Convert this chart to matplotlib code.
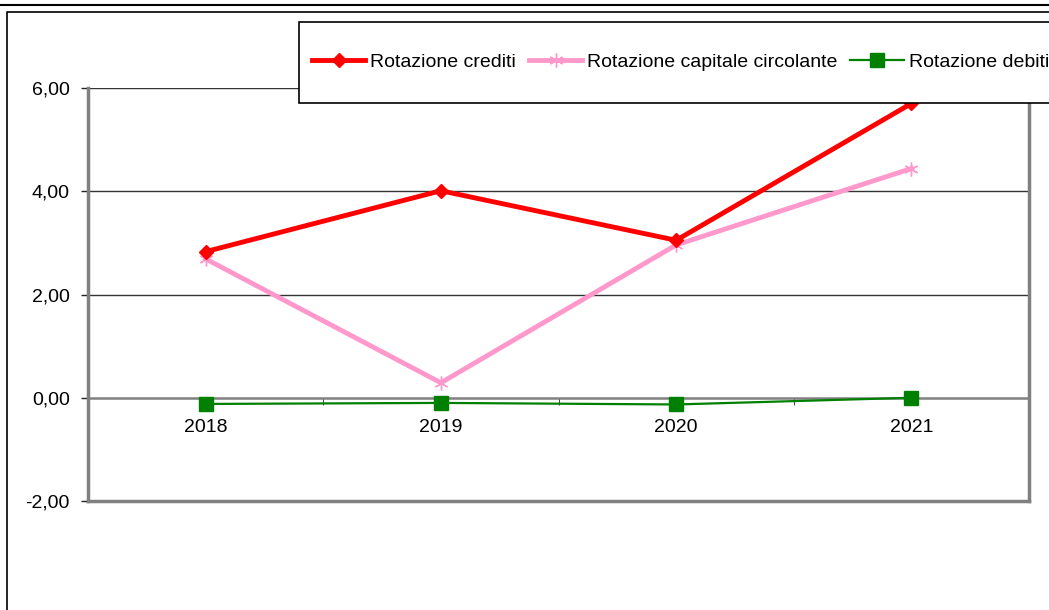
import matplotlib
matplotlib.use("Agg")
import matplotlib.pyplot as plt
from matplotlib.lines import Line2D
from matplotlib.patches import Rectangle
import numpy as np

plt.rcParams['font.family'] = ['Liberation Sans', 'DejaVu Sans']

years = ["2018", "2019", "2020", "2021"]
crediti = [2.83, 4.01, 3.05, 5.70]
circolante = [2.69, 0.29, 2.96, 4.44]
debiti = [-0.12, -0.10, -0.13, 0.00]
yticks = [-2, 0, 2, 4, 6]

W, H = 1049, 610
fig = plt.figure(figsize=(W / 100, H / 100), dpi=100)

def fx(px):
    return px / W

def fy(py):
    return 1 - py / H

ax = fig.add_axes([fx(88), fy(501), fx(1029) - fx(88), fy(88) - fy(501)])
x = np.arange(len(years))

ax.plot(x, crediti, color='#ff0000', lw=3.5, marker='D', ms=7, mec='#ff0000',
        label='Rotazione crediti', zorder=4)
ax.plot(x, circolante, color='#ff99cc', lw=3.5, marker=(6, 2, 0), ms=10, mew=1.0,
        mec='#ff99cc', label='Rotazione capitale circolante', zorder=3)
ax.plot(x, debiti, color='#008000', lw=1.6, marker='s', ms=10, mec='#008000',
        label='Rotazione debiti', zorder=5)

ax.set_xlim(-0.5, len(years) - 0.5)
ax.set_ylim(-2, 6)
ax.set_yticks(yticks)
ax.set_yticklabels([f"{v:.2f}".replace('.', ',') for v in yticks], fontsize=14)
ax.tick_params(axis='y', length=5, width=1, color='#222222', pad=8)

for v in yticks[2:]:
    ax.axhline(v, color='#333333', lw=1.0, zorder=1)

# category axis crossing at zero
ax.spines['bottom'].set_position(('data', 0))
ax.spines['bottom'].set_color('#808080')
ax.spines['bottom'].set_linewidth(1.8)
ax.set_xticks(x)
ax.set_xticklabels(years, fontsize=14)
ax.set_xticks(np.arange(len(years) + 1) - 0.5, minor=True)
ax.tick_params(axis='x', which='major', length=0, pad=15)
ax.tick_params(axis='x', which='minor', length=5, color='#222222', direction='out')
ax.axhline(-2, color='#808080', lw=2.5, zorder=1, clip_on=False)

ax.spines['top'].set_visible(False)
for s in ['left', 'right']:
    ax.spines[s].set_color('#808080')
    ax.spines[s].set_linewidth(2.5)

# outer frames
fig.add_artist(Line2D([0, 1], [fy(5), fy(5)], color='black', lw=1.5))
fig.add_artist(Line2D([fx(7), fx(7), 1], [0, fy(12), fy(12)], color='black', lw=1.2))

# legend box
fig.add_artist(Rectangle((fx(299), fy(103)), fx(800), fy(22) - fy(103),
                         fill=True, facecolor='white', edgecolor='black', lw=1.2,
                         zorder=10))
leg = fig.legend(loc='center left', bbox_to_anchor=(fx(312), fy(62)), ncol=3,
                 frameon=False, fontsize=14, handlelength=2.75, handletextpad=0.25,
                 columnspacing=0.65, borderpad=0, borderaxespad=0)
leg.set_zorder(11)

fig.savefig('out.png', dpi=100)
